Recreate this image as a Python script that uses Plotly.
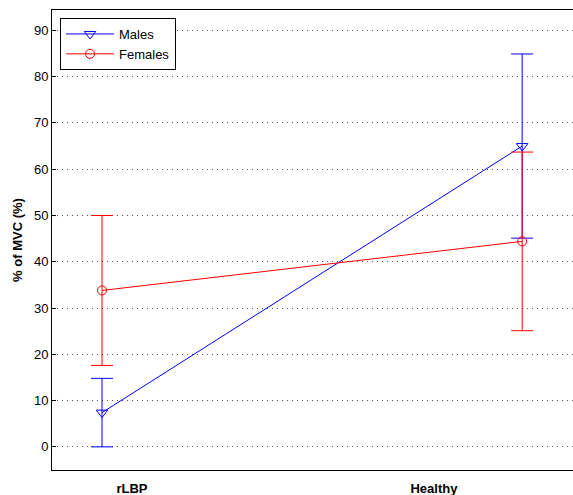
import plotly.graph_objects as go

groups_x = [1.0, 2.0]
tick_pos = [1.0714, 1.790]
tick_text = ["rLBP", "Healthy"]

males_mean = [7.4, 65.0]
males_err = [7.4, 19.9]
females_mean = [33.8, 44.4]
females_err = [16.2, 19.3]

y_ticks = [0, 10, 20, 30, 40, 50, 60, 70, 80, 90]

fig = go.Figure()
fig.add_trace(go.Scatter(
    x=groups_x, y=males_mean, name="Males", mode="lines+markers",
    line=dict(color="#0000FF", width=1),
    marker=dict(symbol="triangle-down-open", size=10, color="#0000FF", line=dict(width=1)),
    error_y=dict(type="data", array=males_err, visible=True, color="#0000FF", thickness=1, width=11),
))
fig.add_trace(go.Scatter(
    x=groups_x, y=females_mean, name="Females", mode="lines+markers",
    line=dict(color="#FF0000", width=1),
    marker=dict(symbol="circle-open", size=9, color="#FF0000", line=dict(width=1)),
    error_y=dict(type="data", array=females_err, visible=True, color="#FF0000", thickness=1, width=11),
))

fig.update_layout(
    width=573, height=495,
    margin=dict(l=52, r=0, t=10, b=25),
    paper_bgcolor="white", plot_bgcolor="white",
    font=dict(family="Liberation Sans, Arial, sans-serif", size=13, color="black"),
    showlegend=True,
    legend=dict(
        x=0.0154, y=0.9826, xanchor="left", yanchor="top",
        bgcolor="white", bordercolor="black", borderwidth=1,
        font=dict(size=13), tracegroupgap=0, itemwidth=48,
    ),
)
fig.update_xaxes(
    range=[0.881, 2.121], showgrid=False, zeroline=False,
    showline=True, linecolor="black", linewidth=1, mirror=True,
    tickvals=tick_pos, ticktext=["<b>%s</b>" % t for t in tick_text],
    ticks="", tickfont=dict(size=13), ticklabelstandoff=6,
)
fig.update_yaxes(
    range=[-5, 94.4], tickvals=y_ticks, showgrid=True,
    gridcolor="#555555", griddash="1px,4px", gridwidth=1, zeroline=False,
    showline=True, linecolor="black", linewidth=1,
    ticks="inside", ticklen=4, tickcolor="black", tickfont=dict(size=13),
    title=dict(text="<b>% of MVC (%)</b>", font=dict(size=13), standoff=8),
)

fig.write_html("out.html", config={"displayModeBar": False},
               post_script="document.body.style.margin='0';document.body.style.overflow='hidden';")
